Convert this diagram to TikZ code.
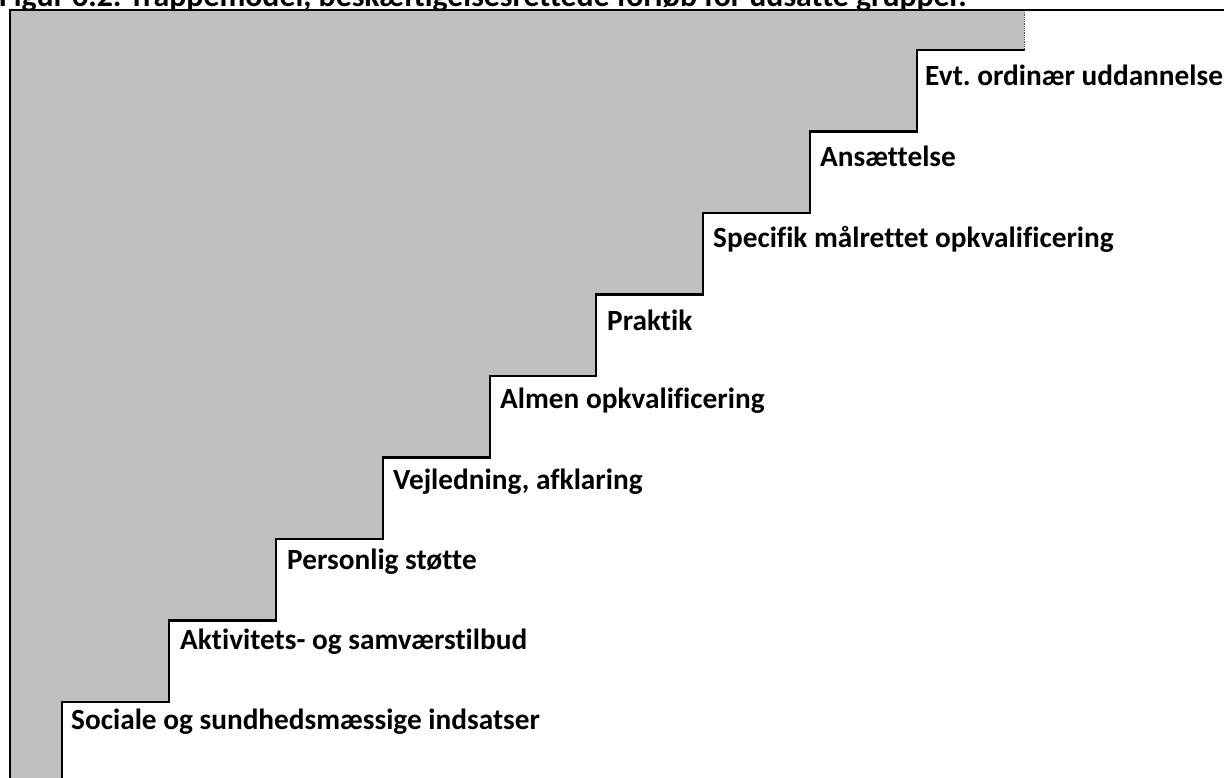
\documentclass[tikz,border=0pt]{standalone}
\usepackage{fontspec}
\setmainfont[Ligatures={NoCommon}]{Carlito}
\frenchspacing
\begin{document}
\frenchspacing
\begin{tikzpicture}[x=1pt,y=-1pt,
  lbl/.style={anchor=west,inner sep=0pt,font=\bfseries\fontsize{29.3}{34}\selectfont},
  stairline/.style={draw=black,line width=2.2pt,line join=miter}]
\useasboundingbox (0,0) rectangle (1224,778);
\begin{scope}
\clip (0,0) rectangle (1224,778);
% title (cut off at the top)
\node[anchor=base west,inner sep=0pt,font=\bfseries\fontsize{31.8}{36}\selectfont] (title) at (-1,6.5) {Figur 6.2: Trappemodel, beskæftigelsesrettede forløb for udsatte grupper.};
% gray staircase fill
\fill[fill={rgb,255:red,192;green,192;blue,192}]
  (10,10) -- (1024,10) -- (1024,50)
  -- (917,50) -- (917,131.5) -- (810,131.5) -- (810,213) -- (703,213) -- (703,294.5)
  -- (596,294.5) -- (596,376) -- (490,376) -- (490,457.5) -- (383,457.5) -- (383,539)
  -- (276,539) -- (276,620.5) -- (169,620.5) -- (169,702) -- (62,702) -- (62,790)
  -- (10,790) -- cycle;
% staircase outline
\draw[stairline] (62,790) -- (62,702) -- (169,702) -- (169,620.5) -- (276,620.5) -- (276,539)
  -- (383,539) -- (383,457.5) -- (490,457.5) -- (490,376) -- (596,376) -- (596,294.5)
  -- (703,294.5) -- (703,213) -- (810,213) -- (810,131.5) -- (917,131.5) -- (917,50) -- (1025,50);
% dotted edge at top right
\draw[densely dotted,line width=0.8pt,black!70] (1024,10) -- (1024,50);
% frame lines
\draw[line width=2.5pt] (10,9) -- (10,790);
\draw[line width=2.2pt] (9,10) -- (1230,10);
\end{scope}
% labels
\node[lbl] (s0) at (71,722) {Sociale og sundhedsmæssige indsatser};
\node[lbl] (s1) at (180,642) {Aktivitets- og samværstilbud};
\node[lbl] (s2) at (287,562) {Personlig støtte};
\node[lbl] (s3) at (393,482) {Vejledning, afklaring};
\node[lbl] (s4) at (500,401) {Almen opkvalificering};
\node[lbl] (s5) at (607,320) {Praktik};
\node[lbl] (s6) at (713,239) {Specifik målrettet opkvalificering};
\node[lbl] (s7) at (820,156) {Ansættelse};
\node[lbl] (s8) at (925,75) {Evt. ordinær uddannelse};
\end{tikzpicture}
\end{document}
